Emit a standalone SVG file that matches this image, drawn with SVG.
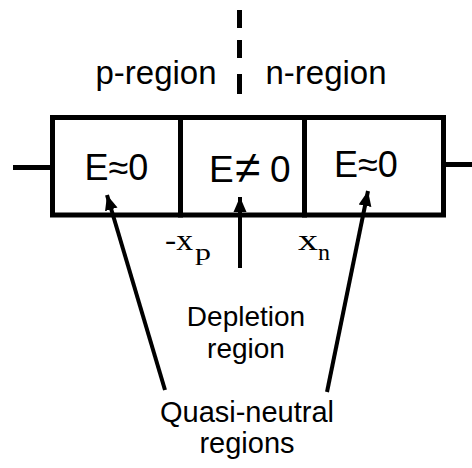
<svg xmlns="http://www.w3.org/2000/svg" width="472" height="468" viewBox="0 0 472 468">
<style>
.sans{font-family:"Liberation Sans",Arial,sans-serif;fill:#000}
.serif{font-family:"Liberation Serif","Times New Roman",serif;fill:#000}
.ln{stroke:#000;stroke-width:5;fill:none}
.arr{stroke:#000;stroke-width:4;fill:none;marker-end:url(#ah)}
</style>
<defs>
<marker id="ah" markerUnits="userSpaceOnUse" markerWidth="16" markerHeight="16" viewBox="0 0 16 16" refX="15" refY="8" orient="auto">
<path d="M0,1.5 L15,8 L0,14.5 Z" fill="#000"/>
</marker>
</defs>
<rect width="472" height="468" fill="#fff"/>
<g id="junction">
<rect x="237" y="10" width="5" height="18" fill="#000"/>
<rect x="237" y="40" width="5" height="18" fill="#000"/>
<rect x="237" y="74" width="5" height="20" fill="#000"/>
</g>
<g id="p-label"><text class="sans" x="156" y="84" font-size="33" text-anchor="middle">p-region</text></g>
<g id="n-label"><text class="sans" x="326" y="84" font-size="33" text-anchor="middle">n-region</text></g>
<g id="leads">
<line class="ln" x1="13" y1="167.5" x2="52" y2="167.5"/>
<line class="ln" x1="443" y1="164.5" x2="472" y2="164.5"/>
</g>
<g id="p-neutral">
<rect class="ln" x="52.5" y="117.5" width="128" height="97.5"/>
<text class="sans" x="116.5" y="180" font-size="36" text-anchor="middle">E≈0</text>
</g>
<g id="depletion">
<rect class="ln" x="180.5" y="117.5" width="124" height="97.5"/>
<text class="sans" x="209" y="182" font-size="37">E</text>
<text class="sans" x="235" y="183" font-size="46">≠</text>
<text class="sans" x="270" y="182" font-size="37">0</text>
</g>
<g id="n-neutral">
<rect class="ln" x="304.5" y="117.5" width="139" height="97.5"/>
<text class="sans" x="366" y="177" font-size="36" text-anchor="middle">E≈0</text>
</g>
<g id="xp-label">
<text class="serif" x="165" y="250" font-size="30" textLength="28" lengthAdjust="spacingAndGlyphs">-x</text>
<text class="serif" x="195" y="260" font-size="24" textLength="16" lengthAdjust="spacingAndGlyphs">p</text>
</g>
<g id="xn-label">
<text class="serif" x="298" y="250" font-size="30" textLength="20" lengthAdjust="spacingAndGlyphs">x</text>
<text class="serif" x="318" y="260" font-size="24" textLength="12" lengthAdjust="spacingAndGlyphs">n</text>
</g>
<g id="connectors">
<line class="arr" x1="165" y1="390" x2="107" y2="195"/>
<line class="arr" x1="240" y1="268" x2="240" y2="197"/>
<line class="arr" x1="327" y1="392" x2="368" y2="191"/>
</g>
<g id="depletion-label">
<text class="sans" x="246" y="326" font-size="28" text-anchor="middle">Depletion</text>
<text class="sans" x="246" y="358" font-size="28" text-anchor="middle">region</text>
</g>
<g id="quasi-label">
<text class="sans" x="247" y="422" font-size="29" text-anchor="middle">Quasi-neutral</text>
<text class="sans" x="247" y="453" font-size="29" text-anchor="middle">regions</text>
</g>
</svg>
